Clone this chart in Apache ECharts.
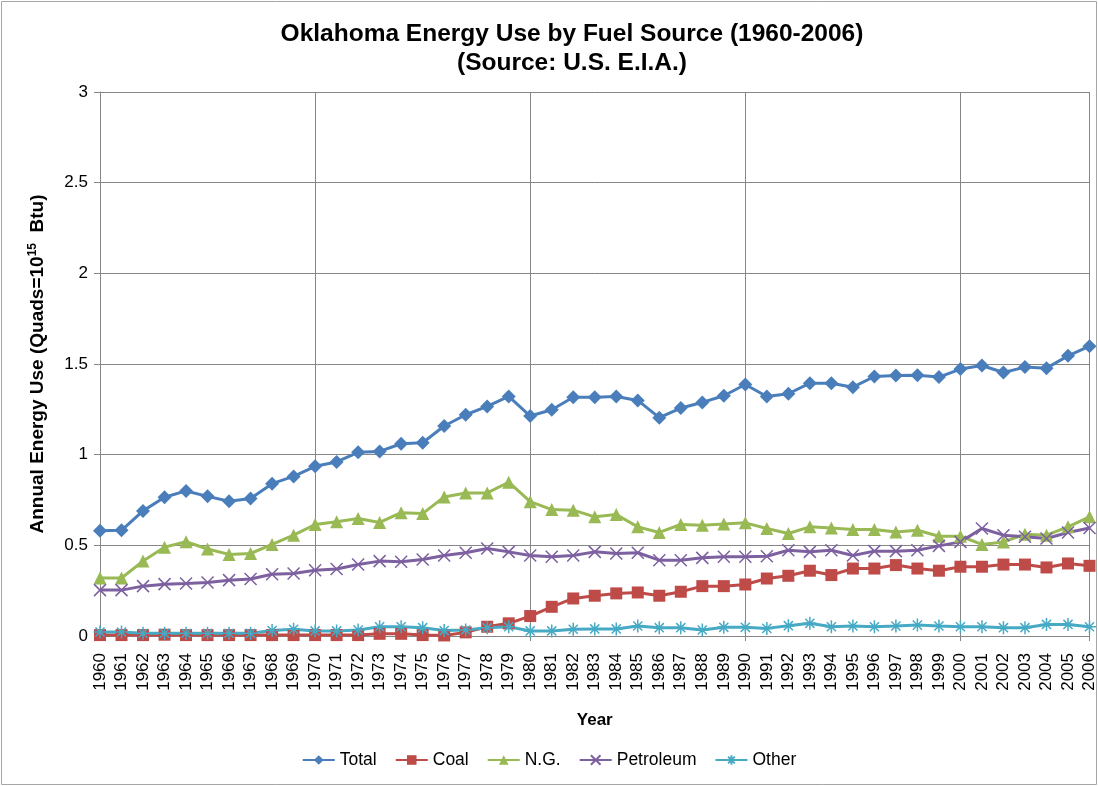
<!DOCTYPE html>
<html>
<head>
<meta charset="utf-8">
<script src="https://cdn.jsdelivr.net/npm/echarts@6/dist/echarts.min.js"></script>
<style>
  html, body { margin: 0; padding: 0; background: #fff; }
  #chart { width: 1098px; height: 786px; }
</style>
</head>
<body>
<div id="chart"></div>
<script>
// Oklahoma energy use by fuel source, quadrillion Btu
const years = [];
for (let y = 1960; y <= 2006; y++) years.push(String(y));

const total = [0.58, 0.583, 0.69, 0.765, 0.80, 0.77, 0.743, 0.758, 0.84, 0.88,
  0.936, 0.96, 1.013, 1.018, 1.06, 1.066, 1.158, 1.22, 1.266, 1.321,
  1.213, 1.248, 1.317, 1.317, 1.321, 1.299, 1.204, 1.257, 1.288, 1.325,
  1.387, 1.321, 1.336, 1.394, 1.394, 1.372, 1.431, 1.437, 1.438, 1.428,
  1.472, 1.492, 1.453, 1.483, 1.477, 1.545, 1.598];

const coal = [0.005, 0.005, 0.005, 0.007, 0.005, 0.005, 0.005, 0.005, 0.005, 0.005,
  0.005, 0.005, 0.005, 0.012, 0.012, 0.005, 0.003, 0.02, 0.051, 0.07,
  0.11, 0.161, 0.207, 0.222, 0.235, 0.24, 0.222, 0.244, 0.275, 0.275,
  0.284, 0.317, 0.332, 0.36, 0.336, 0.372, 0.372, 0.391, 0.372, 0.36,
  0.382, 0.382, 0.394, 0.394, 0.378, 0.40, 0.387];

const naturalGas = [0.32, 0.32, 0.413, 0.49, 0.52, 0.48, 0.45, 0.455, 0.505, 0.556,
  0.615, 0.63, 0.648, 0.626, 0.68, 0.675, 0.767, 0.789, 0.789, 0.848,
  0.741, 0.697, 0.694, 0.657, 0.67, 0.602, 0.571, 0.615, 0.611, 0.617,
  0.624, 0.593, 0.565, 0.602, 0.596, 0.587, 0.587, 0.574, 0.583, 0.55,
  0.55, 0.505, 0.519, 0.561, 0.556, 0.602, 0.657];

const petroleum = [0.253, 0.253, 0.275, 0.286, 0.29, 0.295, 0.308, 0.314, 0.341, 0.345,
  0.363, 0.369, 0.394, 0.413, 0.409, 0.422, 0.444, 0.459, 0.483, 0.464,
  0.444, 0.437, 0.444, 0.464, 0.455, 0.459, 0.418, 0.418, 0.431, 0.437,
  0.437, 0.44, 0.473, 0.464, 0.473, 0.444, 0.468, 0.468, 0.473, 0.497,
  0.519, 0.593, 0.556, 0.547, 0.538, 0.571, 0.596];

const other = [0.022, 0.022, 0.015, 0.015, 0.015, 0.015, 0.015, 0.015, 0.03, 0.037,
  0.028, 0.028, 0.033, 0.051, 0.051, 0.046, 0.03, 0.033, 0.046, 0.051,
  0.028, 0.028, 0.037, 0.039, 0.039, 0.055, 0.046, 0.046, 0.033, 0.048,
  0.048, 0.042, 0.057, 0.07, 0.051, 0.055, 0.051, 0.055, 0.06, 0.055,
  0.051, 0.051, 0.046, 0.046, 0.064, 0.064, 0.051];

const yTicks = [0, 0.5, 1, 1.5, 2, 2.5, 3];

const FONT = '"Liberation Sans", Arial, sans-serif';
const crossPath = 'path://M0,0L10,10M10,0L0,10';
const starPath = 'path://M5,0L5,10M0,5L10,5M1.5,1.5L8.5,8.5M8.5,1.5L1.5,8.5';

function lineSeries(name, data, color, symbol, size, stroked) {
  return {
    name: name,
    type: 'line',
    data: data,
    symbol: symbol,
    symbolSize: size,
    showAllSymbol: true,
    lineStyle: { color: color, width: 3 },
    itemStyle: stroked
      ? { color: color, borderColor: color, borderWidth: 1.5 }
      : { color: color },
    emphasis: { disabled: true },
    z: 3
  };
}

const chart = echarts.init(document.getElementById('chart'), null, { renderer: 'canvas' });

chart.setOption({
  animation: false,
  backgroundColor: '#ffffff',
  textStyle: { fontFamily: FONT },
  title: {
    text: 'Oklahoma Energy Use by Fuel Source (1960-2006)\n(Source: U.S. E.I.A.)',
    left: 567,
    top: 15,
    textAlign: 'center',
    textStyle: { fontFamily: FONT, fontSize: 24.5, fontWeight: 'bold', color: '#000', lineHeight: 29 }
  },
  graphic: [{
    type: 'rect',
    shape: { x: 1.5, y: 1.5, width: 1095, height: 783 },
    style: { fill: 'none', stroke: '#a6a6a6', lineWidth: 1 },
    silent: true
  }],
  legend: {
    bottom: 12,
    left: 'center',
    itemWidth: 32,
    itemHeight: 12,
    itemGap: 18,
    textStyle: { fontFamily: FONT, fontSize: 17.5, color: '#000' },
    data: ['Total', 'Coal', 'N.G.', 'Petroleum', 'Other']
  },
  grid: { left: 100, right: 8, top: 92, bottom: 150, containLabel: false },
  xAxis: {
    type: 'category',
    data: years,
    boundaryGap: false,
    name: 'Year',
    nameLocation: 'middle',
    nameGap: 76,
    nameTextStyle: { fontFamily: FONT, fontSize: 17, fontWeight: 'bold', color: '#000' },
    axisLine: { lineStyle: { color: '#868686', width: 1 } },
    axisTick: { show: true, interval: 9, length: 5, lineStyle: { color: '#868686' } },
    axisLabel: { interval: 0, rotate: 90, margin: 17, fontSize: 17, color: '#000', fontFamily: FONT },
    splitLine: { show: true, interval: 9, lineStyle: { color: '#868686', width: 1 } }
  },
  yAxis: {
    type: 'value',
    min: yTicks[0],
    max: yTicks[yTicks.length - 1],
    interval: 0.5,
    name: '{a|Annual Energy Use (Quads=10}{s|15}{a|  Btu)}',
    nameLocation: 'middle',
    nameGap: 51,
    nameRotate: 90,
    nameTextStyle: {
      rich: {
        a: { fontFamily: FONT, fontSize: 19, fontWeight: 'bold', color: '#000', lineHeight: 22 },
        s: { fontFamily: FONT, fontSize: 12, fontWeight: 'bold', color: '#000', verticalAlign: 'top', lineHeight: 22, padding: [0, 0, 9, 0] }
      }
    },
    axisLine: { show: true, lineStyle: { color: '#868686', width: 1 } },
    axisTick: { show: true, length: 6, lineStyle: { color: '#868686' } },
    axisLabel: { fontSize: 17, color: '#000', margin: 12, fontFamily: FONT },
    splitLine: { show: true, lineStyle: { color: '#868686', width: 1 } }
  },
  series: [
    lineSeries('Total', total, '#4A7EBB', 'diamond', 14, false),
    lineSeries('Coal', coal, '#BE4B48', 'rect', 12, false),
    lineSeries('N.G.', naturalGas, '#98B954', 'triangle', 13, false),
    lineSeries('Petroleum', petroleum, '#7D60A0', crossPath, 12, true),
    lineSeries('Other', other, '#46AAC5', starPath, 13, true)
  ]
});
</script>
</body>
</html>
